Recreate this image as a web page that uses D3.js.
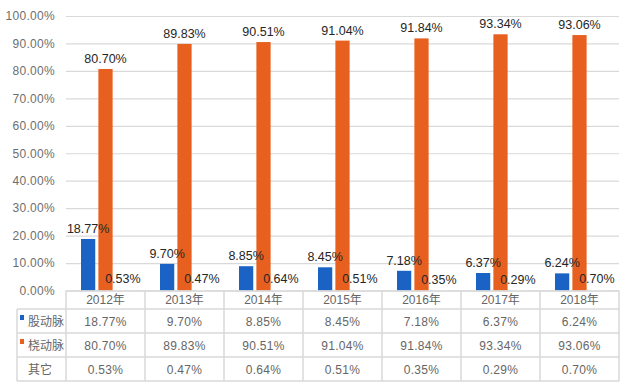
<!DOCTYPE html>
<html>
<head>
<meta charset="utf-8">
<script src="https://cdn.jsdelivr.net/npm/d3@7"></script>
<style>
  body { margin: 0; background: #fff; }
  svg { display: block; }
  text { font-family: "Liberation Sans", Arial, "Noto Sans CJK SC", sans-serif; }
</style>
</head>
<body>
<div id="chart"></div>
<script>
// dados
const years = ["2012年", "2013年", "2014年", "2015年", "2016年", "2017年", "2018年"];
const seriesNames = ["股动脉", "桡动脉", "其它"];
const femoral = [0.1877, 0.0970, 0.0885, 0.0845, 0.0718, 0.0637, 0.0624];
const radial = [0.8070, 0.8983, 0.9051, 0.9104, 0.9184, 0.9334, 0.9306];
const other = [0.0053, 0.0047, 0.0064, 0.0051, 0.0035, 0.0029, 0.0070];
const yTicks = [0, 0.1, 0.2, 0.3, 0.4, 0.5, 0.6, 0.7, 0.8, 0.9, 1.0];

const seriesValues = [femoral, radial, other];
const colors = ["#1a63c4", "#e8601f", "#ffffff"];

const width = 630, height = 389;
const plotLeft = 66, plotRight = 619, plotTop = 16, plotBottom = 290.5;
const tableLeft = 17;
const headerBottom = 309, rowH = 24;

const svg = d3.select("#chart").append("svg")
    .attr("width", width)
    .attr("height", height);

const x0 = d3.scaleBand().domain(years).range([plotLeft, plotRight]);
const x1 = d3.scaleBand().domain(seriesNames).range([15, 64]).paddingInner(0.18);
const y = d3.scaleLinear().domain([0, 1]).range([plotBottom, plotTop]);

// eixo y + grelha
const yAxis = svg.append("g")
    .attr("transform", `translate(${plotLeft},0)`)
    .call(d3.axisLeft(y)
        .tickValues(yTicks)
        .tickFormat(d3.format(".2%"))
        .tickSizeInner(-(plotRight - plotLeft))
        .tickSizeOuter(0)
        .tickPadding(11));
yAxis.select(".domain").remove();
yAxis.selectAll(".tick line").attr("stroke", "#d9d9d9").attr("stroke-width", 1.2);
yAxis.selectAll(".tick text")
    .attr("fill", "#6e6e6e")
    .style("font-size", "12px")
    .style("letter-spacing", "0.3px");

// barras (primeiro todas as barras, depois os rótulos por cima)
const groups = svg.selectAll(".year")
    .data(years)
    .enter()
    .append("g")
    .attr("class", "year")
    .attr("transform", d => `translate(${x0(d)},0)`);

seriesNames.forEach((name, s) => {
    groups.append("rect")
        .attr("x", x1(name))
        .attr("width", x1.bandwidth())
        .attr("y", (d, i) => y(seriesValues[s][i]))
        .attr("height", (d, i) => y(0) - y(seriesValues[s][i]))
        .attr("fill", colors[s]);
});

seriesNames.forEach((name, s) => {
    groups.append("text")
        .attr("x", x1(name) + x1.bandwidth() / 2)
        .attr("y", (d, i) => y(seriesValues[s][i]) - 6)
        .attr("text-anchor", "middle")
        .attr("fill", "#262626")
        .style("font-size", "12.5px")
        .text((d, i) => d3.format(".2%")(seriesValues[s][i]));
});

// tabela de dados
const grid = svg.append("g").attr("stroke", "#d9d9d9").attr("stroke-width", 1.5);
grid.append("line").attr("x1", plotLeft).attr("x2", plotRight).attr("y1", plotBottom + 0.5).attr("y2", plotBottom + 0.5);
for (let r = 0; r <= seriesNames.length; r++) {
    const yy = headerBottom + r * rowH;
    grid.append("line").attr("x1", tableLeft).attr("x2", plotRight).attr("y1", yy).attr("y2", yy);
}
const tableEnd = headerBottom + seriesNames.length * rowH;
grid.append("line").attr("x1", tableLeft).attr("x2", tableLeft).attr("y1", headerBottom).attr("y2", tableEnd);
years.forEach(yr => {
    grid.append("line").attr("x1", x0(yr)).attr("x2", x0(yr)).attr("y1", plotBottom).attr("y2", tableEnd);
});
grid.append("line").attr("x1", plotRight).attr("x2", plotRight).attr("y1", plotBottom).attr("y2", tableEnd);

svg.selectAll(".hdr")
    .data(years)
    .enter()
    .append("text")
    .attr("x", d => x0(d) + x0.bandwidth() / 2)
    .attr("y", (plotBottom + headerBottom) / 2 + 4.5)
    .attr("text-anchor", "middle")
    .attr("fill", "#666")
    .style("font-size", "12px")
    .text(d => d);

seriesNames.forEach((name, s) => {
    const cy = headerBottom + s * rowH + rowH / 2;
    if (s < 2) {
        svg.append("rect")
            .attr("x", 20).attr("y", cy - 6)
            .attr("width", 4).attr("height", 5)
            .attr("fill", colors[s]);
    }
    svg.append("text")
        .attr("x", 28)
        .attr("y", cy + 5)
        .attr("fill", "#666")
        .style("font-family", "'Noto Sans CJK SC', sans-serif")
        .style("font-size", "12px")
        .text(name);

    svg.selectAll(".cell" + s)
        .data(years)
        .enter()
        .append("text")
        .attr("x", d => x0(d) + x0.bandwidth() / 2)
        .attr("y", cy + 4.5)
        .attr("text-anchor", "middle")
        .attr("fill", "#666")
        .style("font-size", "12px")
        .style("letter-spacing", "0.3px")
        .text((d, i) => d3.format(".2%")(seriesValues[s][i]));
});
</script>
</body>
</html>
